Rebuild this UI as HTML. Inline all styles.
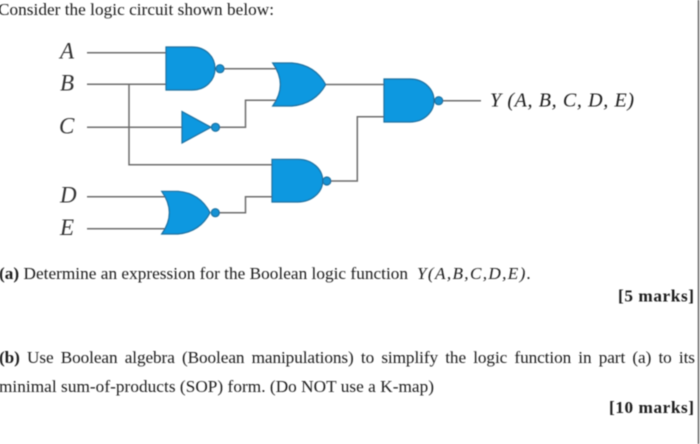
<!DOCTYPE html>
<html><head><meta charset="utf-8"><style>
html,body{margin:0;padding:0;background:#fff;width:700px;height:444px;overflow:hidden}
svg{display:block}
text{font-family:"Liberation Serif",serif;fill:#1c1c1c}
.t{font-size:17.2px}
.b{font-weight:bold}
.l{font-size:23px;font-style:italic;fill:#333}
.w{fill:none;stroke:#6d6d6d;stroke-width:1.5}
.g{fill:#0f98e0;stroke:#1f6f9f;stroke-width:1.2}
.c{fill:#1592d4;stroke:#1f6f9f;stroke-width:1.2}
</style></head><body>
<svg width="700" height="444" viewBox="0 0 700 444" xmlns="http://www.w3.org/2000/svg">
<defs><filter id="s" x="-5%" y="-5%" width="110%" height="110%"><feGaussianBlur stdDeviation="0.4"/></filter></defs>
<g filter="url(#s)">
<path class="w" d="M87 52.7H166M87 84.3H166M129 84.3V164.7H272M87 127.3H182M87 196.7H166M87 228.7H166"/>
<path class="w" d="M224 68.7H276M219 127.3H245.5V100.3H276M326 84.5H384M330 181H357.3V116.7H384M219 212.7H245.5V196.7H272M442 100.7H481"/>
<path class="g" d="M166 47H192C206 47 215 57 215 68.5C215 80 206 90 192 90H166Z"/>
<circle class="c" cx="220" cy="68.7" r="4"/>
<path class="g" d="M272.7 63H292Q315 65 325.7 84.6Q315 104 292 106H272.7Q288 84.6 272.7 63Z"/>
<path class="g" d="M182 111.5L211 127.3L182 143Z"/>
<circle class="c" cx="215.5" cy="127.3" r="4"/>
<path class="g" d="M272 159.3H298C312 159.3 322.7 169 322.7 180.7C322.7 192 312 202 298 202H272Z"/>
<circle class="c" cx="326.8" cy="181" r="4"/>
<path class="g" d="M161.7 191.3H178Q200 193 210 212.7Q200 232 178 234H161.7Q177 212.7 161.7 191.3Z"/>
<circle class="c" cx="215.3" cy="212.7" r="4"/>
<path class="g" d="M384 79H410C424 79 434 89 434 100.5C434 112 424 122 410 122H384Z"/>
<circle class="c" cx="438.7" cy="100.7" r="4"/>
<path d="M698.5 0V444" stroke="#666" stroke-width="1.5" fill="none"/>
<text class="l" x="60" y="58.5">A</text>
<text class="l" x="60" y="90.5">B</text>
<text class="l" x="59" y="133.5">C</text>
<text class="l" x="60" y="202.5">D</text>
<text class="l" x="60" y="235">E</text>
<text x="490" y="106.5" font-size="20" font-style="italic" fill="#333" textLength="144" lengthAdjust="spacing">Y (A, B, C, D, E)</text>
<text class="t" x="-2" y="15" textLength="276" lengthAdjust="spacing">Consider the logic circuit shown below:</text>
<text class="t" x="-1" y="279" textLength="409" lengthAdjust="spacing"><tspan class="b">(a)</tspan> Determine an expression for the Boolean logic function</text>
<text class="t" x="417" y="279" font-style="italic" textLength="114" lengthAdjust="spacing">Y(A,B,C,D,E).</text>
<text class="t b" x="618" y="301.5" textLength="76" lengthAdjust="spacing">[5 marks]</text>
<text class="t" x="-1" y="363" word-spacing="3" textLength="696" lengthAdjust="spacing"><tspan class="b">(b)</tspan> Use Boolean algebra (Boolean manipulations) to simplify the logic function in part (a) to its</text>
<text class="t" x="-1" y="392" textLength="435" lengthAdjust="spacing">minimal sum-of-products (SOP) form. (Do NOT use a K-map)</text>
<text class="t b" x="609" y="413" textLength="85" lengthAdjust="spacing">[10 marks]</text>
</g>
</svg>
</body></html>
